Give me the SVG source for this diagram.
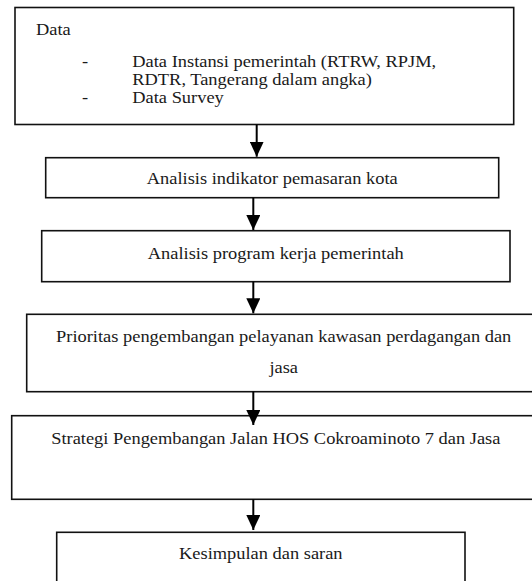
<svg xmlns="http://www.w3.org/2000/svg" width="532" height="581" viewBox="0 0 532 581">
<style>
.box{fill:#fff;stroke:#111;stroke-width:1.6}
.t{font-family:"Liberation Serif","Times New Roman",serif;font-size:16.3px;fill:#1a1a1a}
.c{text-anchor:middle}
.conn line{stroke:#000;stroke-width:2}
</style>
<defs>
<marker id="ah" markerUnits="userSpaceOnUse" markerWidth="16" markerHeight="14" refX="15" refY="7" orient="auto" viewBox="0 0 16 14">
<path d="M0,0 L15,7 L0,14 Z" fill="#000"/>
</marker>
</defs>
<rect width="532" height="581" fill="#fff"/>
<g id="n1">
<rect class="box" x="15" y="7.5" width="498.7" height="117"/>
<g transform="translate(36,35) scale(1.13,1)"><text class="t">Data</text></g>
<g transform="translate(82,66.7) scale(1.13,1)"><text class="t">-</text></g>
<g transform="translate(132.3,66.7) scale(1.13,1)"><text class="t">Data Instansi pemerintah (RTRW, RPJM,</text></g>
<g transform="translate(132.3,85) scale(1.13,1)"><text class="t">RDTR, Tangerang dalam angka)</text></g>
<g transform="translate(82,103.3) scale(1.13,1)"><text class="t">-</text></g>
<g transform="translate(132.3,103.3) scale(1.13,1)"><text class="t">Data Survey</text></g>
</g>
<g id="n2">
<rect class="box" x="45.7" y="157.7" width="453" height="40"/>
<g transform="translate(272.2,184) scale(1.13,1)"><text class="t c">Analisis indikator pemasaran kota</text></g>
</g>
<g id="n3">
<rect class="box" x="41.7" y="230.7" width="468.3" height="51"/>
<g transform="translate(275.8,259.3) scale(1.13,1)"><text class="t c">Analisis program kerja pemerintah</text></g>
</g>
<g id="n4">
<rect class="box" x="26.7" y="314.3" width="514" height="77.4"/>
<g transform="translate(283.7,341.7) scale(1.13,1)"><text class="t c">Prioritas pengembangan pelayanan kawasan perdagangan dan</text></g>
<g transform="translate(283.7,372.5) scale(1.13,1)"><text class="t c">jasa</text></g>
</g>
<g id="n5">
<rect class="box" x="11.7" y="415.7" width="528.3" height="83.6"/>
<g transform="translate(275.8,444) scale(1.13,1)"><text class="t c">Strategi Pengembangan Jalan HOS Cokroaminoto 7 dan Jasa</text></g>
</g>
<g id="n6">
<rect class="box" x="56.7" y="532.3" width="408.3" height="60"/>
<g transform="translate(260.8,559.3) scale(1.13,1)"><text class="t c">Kesimpulan dan saran</text></g>
</g>
<g class="conn" id="connectors">
<line x1="256.7" y1="124.5" x2="256.7" y2="156.7" marker-end="url(#ah)"/>
<line x1="253.3" y1="197.7" x2="253.3" y2="230" marker-end="url(#ah)"/>
<line x1="253.3" y1="281.7" x2="253.3" y2="313.3" marker-end="url(#ah)"/>
<line x1="253.3" y1="391.7" x2="253.3" y2="425" marker-end="url(#ah)"/>
<line x1="253.3" y1="499.3" x2="253.3" y2="530" marker-end="url(#ah)"/>
</g>
</svg>
